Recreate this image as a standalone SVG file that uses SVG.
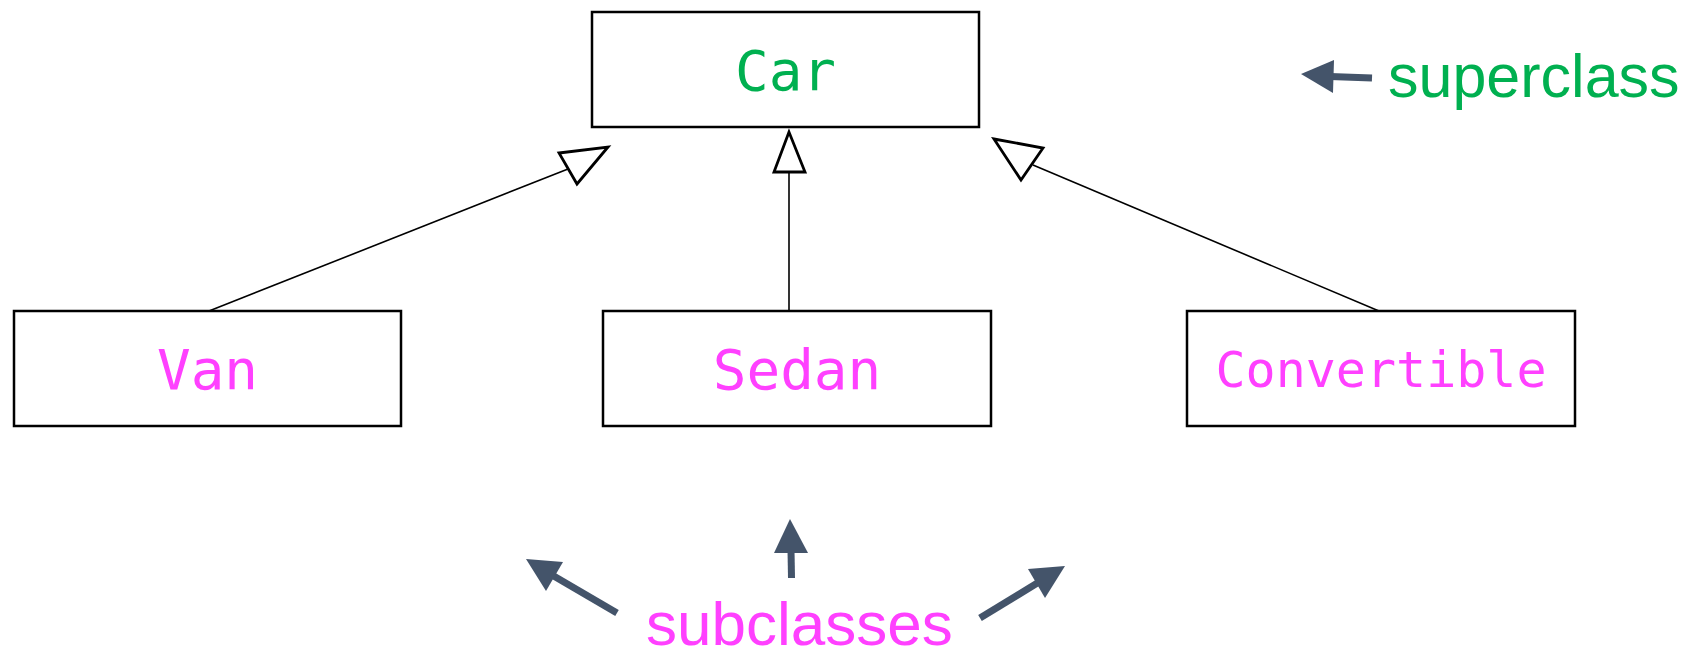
<svg xmlns="http://www.w3.org/2000/svg" width="1700" height="651" viewBox="0 0 1700 651">
  <style>
    .box { fill: #ffffff; stroke: #000000; stroke-width: 2.5; }
    .cls { font-family: "DejaVu Sans Mono", "Liberation Mono", monospace; text-anchor: middle; }
    .super { fill: #00B050; }
    .sub { fill: #FF40FF; }
    .edge { stroke: #000000; stroke-width: 1.6; fill: none; }
    .gen { fill: #ffffff; stroke: #000000; stroke-width: 2.8; stroke-linejoin: miter; }
    .note { font-family: "Liberation Sans", Arial, sans-serif; }
    .shaft { stroke: #44546A; stroke-width: 7; fill: none; }
    .head { fill: #44546A; }
  </style>

  <rect width="1700" height="651" fill="#ffffff"/>

  <!-- generalisation connectors -->
  <g id="connectors">
    <line class="edge" x1="209" y1="311" x2="568" y2="169"/>
    <polygon class="gen" points="559,153 608,147 577,184"/>
    <line class="edge" x1="789" y1="172" x2="789" y2="315"/>
    <polygon class="gen" points="789,132 774,172 805,172"/>
    <line class="edge" x1="1033" y1="165" x2="1379" y2="311"/>
    <polygon class="gen" points="994,139 1043,148 1021,180"/>
  </g>

  <!-- classes -->
  <g id="car">
    <rect class="box" x="592" y="12" width="387" height="115"/>
    <text class="cls super" x="785.5" y="90" font-size="56">Car</text>
  </g>
  <g id="van">
    <rect class="box" x="14" y="311" width="387" height="115"/>
    <text class="cls sub" x="207.5" y="389" font-size="56">Van</text>
  </g>
  <g id="sedan">
    <rect class="box" x="603" y="311" width="388" height="115"/>
    <text class="cls sub" x="797" y="389" font-size="56">Sedan</text>
  </g>
  <g id="convertible">
    <rect class="box" x="1187" y="311" width="388" height="115"/>
    <text class="cls sub" x="1381" y="387" font-size="50">Convertible</text>
  </g>

  <!-- annotations -->
  <g id="superclass-note">
    <line class="shaft" x1="1372" y1="78" x2="1330" y2="76.5"/>
    <polygon class="head" points="1301,74 1334,60 1333,93"/>
    <text class="note super" x="1388" y="97" font-size="61">superclass</text>
  </g>
  <g id="subclasses-note">
    <line class="shaft" x1="617" y1="613" x2="552" y2="575"/>
    <polygon class="head" points="526,559 563,562 546,591"/>
    <line class="shaft" x1="791.5" y1="578" x2="791" y2="550"/>
    <polygon class="head" points="790,519 774,553 808,553"/>
    <line class="shaft" x1="980" y1="618" x2="1039" y2="582"/>
    <polygon class="head" points="1065,566 1028,569 1045,598"/>
    <text class="note sub" x="646" y="645" font-size="62">subclasses</text>
  </g>
</svg>
